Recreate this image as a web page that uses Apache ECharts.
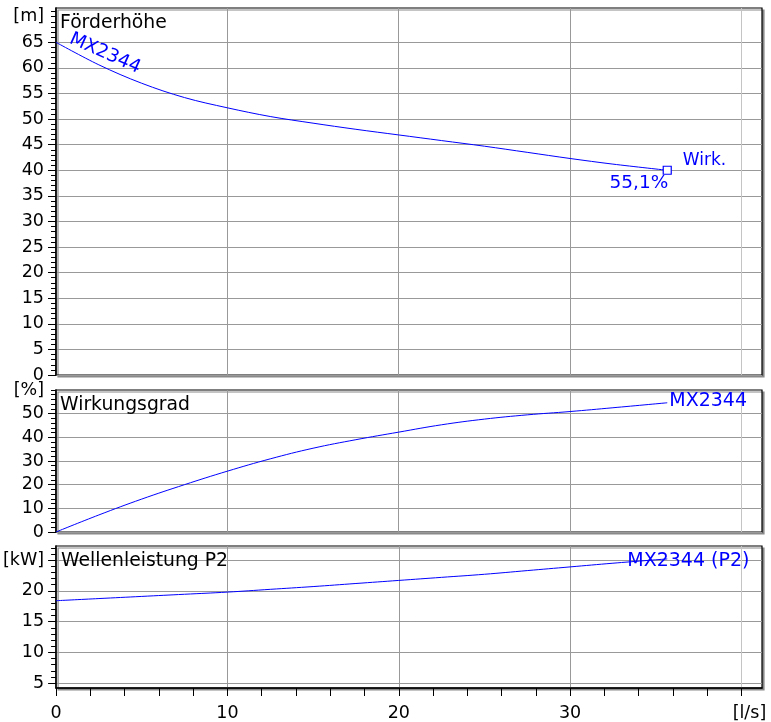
<!DOCTYPE html>
<html>
<head>
<meta charset="utf-8">
<script src="https://cdn.jsdelivr.net/npm/echarts@6/dist/echarts.min.js"></script>
<style>html,body{margin:0;padding:0;background:#fff}#c{width:771px;height:722px}</style>
</head>
<body>
<div id="c"></div>
<script>
// ---- data ----
const flow  = [0, 2.5, 5, 7.5, 10, 12.5, 15, 17.5, 20, 22.5, 25, 27.5, 30, 32.5, 35.67];
const head  = [65, 60.6, 57.0, 54.2, 52.2, 50.5, 49.2, 48.0, 46.9, 45.8, 44.7, 43.5, 42.3, 41.2, 40.0];
const eff   = [0, 7.2, 13.9, 20.0, 25.7, 30.9, 35.4, 39.0, 42.2, 45.3, 47.7, 49.5, 50.9, 52.5, 54.6];
const power = [18.4, 18.75, 19.1, 19.45, 19.8, 20.25, 20.7, 21.2, 21.7, 22.2, 22.7, 23.3, 23.9, 24.5, 25.2];

const pumpName = 'MX2344';
const opLabel = 'Wirk.';
const opEffText = '55,1%';
const titles = ['Förderhöhe', 'Wirkungsgrad', 'Wellenleistung P2'];

const xTicks = [0, 10, 20, 30, 40];
const xMinorTicks = [0, 2, 4, 6, 8, 10, 12, 14, 16, 18, 20, 22, 24, 26, 28, 30, 32, 34, 36, 38, 40];
const hTicks = [0, 5, 10, 15, 20, 25, 30, 35, 40, 45, 50, 55, 60, 65];
const hLabels = [0, 5, 10, 15, 20, 25, 30, 35, 40, 45, 50, 55, 60, 65, 70];
const eTicks = [0, 10, 20, 30, 40, 50];
const eLabels = [0, 10, 20, 30, 40, 50, 60];
const pTicks = [5, 10, 15, 20, 25];
const pLabels = [5, 10, 15, 20, 25];
const units = { x: '[l/s]', h: '[m]', e: '[%]', p: '[kW]' };
const unitAt = { x: 40, h: 70, e: 60, p: 25 };

function range(a, b, s) { const r = []; for (let v = a; v <= b + 1e-9; v += s) r.push(v); return r; }
const hMinor = range(0, 71, 1);
const eMinor = range(0, 60, 2);
const pMinor = range(5, 27, 1);

// ---- styles ----
const FONT = 'DejaVu Sans';
const BLUE = '#0000ff';
const GRIDC = '#999999';
const pairs = (ys) => flow.map((x, i) => [x, ys[i]]);
const last = flow.length - 1;

const grids = [
  { left: 56, width: 706, top: 8, height: 367 },
  { left: 56, width: 706, top: 390, height: 142 },
  { left: 56, width: 706, top: 546, height: 142 }
].map(g => Object.assign(g, {
  show: true, backgroundColor: '#fff', borderColor: '#000', borderWidth: 1.2,
  shadowColor: '#8a8a8a', shadowOffsetX: 2, shadowOffsetY: 2, shadowBlur: 0
}));

function xAxisMain(gi, showLabels) {
  return {
    type: 'value', gridIndex: gi, min: 0, max: 41.2, position: 'bottom',
    axisLine: { show: gi === 2, onZero: false, lineStyle: { color: '#000', width: 1.5 } },
    axisTick: { show: false, customValues: xTicks },
    axisLabel: {
      show: showLabels, customValues: xTicks, margin: 16,
      color: '#000', fontFamily: FONT, fontSize: 17.5,
      formatter: v => v === unitAt.x ? '{u|' + units.x + '}' : String(v),
      rich: { u: { color: '#000', fontFamily: FONT, fontSize: 17.5, padding: [0, 0, 0, 16] } }
    },
    splitLine: { show: true, lineStyle: { color: [GRIDC, GRIDC, GRIDC, GRIDC, '#c4c4c4'], width: 1 } }
  };
}
function yAxisMain(gi, min, max, ticks, labels, unitKey) {
  return {
    type: 'value', gridIndex: gi, min: min, max: max, position: 'left',
    axisLine: { show: true, onZero: false, lineStyle: { color: '#000', width: 1.6 } },
    axisTick: { show: true, length: 8, customValues: ticks, lineStyle: { color: '#000', width: 1 } },
    axisLabel: {
      customValues: labels, margin: 12, color: '#000', fontFamily: FONT, fontSize: 17.5,
      formatter: v => v === unitAt[unitKey] ? units[unitKey] : String(v)
    },
    splitLine: { show: true, lineStyle: { color: GRIDC, width: 1 } }
  };
}
function yAxisMinor(gi, min, max, ticks) {
  return {
    type: 'value', gridIndex: gi, min: min, max: max, position: 'left',
    axisLine: { show: false, onZero: false },
    axisTick: { show: true, length: 5, customValues: ticks, lineStyle: { color: '#000', width: 1 } },
    axisLabel: { show: false },
    splitLine: { show: false }
  };
}

const option = {
  animation: false,
  backgroundColor: '#fff',
  grid: grids,
  xAxis: [
    xAxisMain(0, false),
    xAxisMain(1, false),
    xAxisMain(2, true),
    {
      type: 'value', gridIndex: 2, min: 0, max: 41.2, position: 'bottom',
      axisLine: { show: false, onZero: false },
      axisTick: { show: true, length: 8, customValues: xMinorTicks, lineStyle: { color: '#000', width: 1 } },
      axisLabel: { show: false }, splitLine: { show: false }
    }
  ],
  yAxis: [
    yAxisMain(0, 0, 71.7, hTicks, hLabels, 'h'),
    yAxisMinor(0, 0, 71.7, hMinor),
    yAxisMain(1, 0, 60, eTicks, eLabels, 'e'),
    yAxisMinor(1, 0, 60, eMinor),
    yAxisMain(2, 4.2, 27.3, pTicks, pLabels, 'p'),
    yAxisMinor(2, 4.2, 27.3, pMinor)
  ],
  graphic: [
    { type: 'text', x: 60, y: 23, z: 100, style: { text: titles[0], fill: '#000', fontFamily: FONT, fontSize: 18.8, verticalAlign: 'middle' } },
    { type: 'text', x: 60, y: 405, z: 100, style: { text: titles[1], fill: '#000', fontFamily: FONT, fontSize: 18.8, verticalAlign: 'middle' } },
    { type: 'text', x: 61, y: 561, z: 100, style: { text: titles[2], fill: '#000', fontFamily: FONT, fontSize: 18.8, verticalAlign: 'middle' } }
  ],
  series: [
    {
      type: 'line', xAxisIndex: 0, yAxisIndex: 0, data: pairs(head), smooth: 0.35,
      showSymbol: false, lineStyle: { color: BLUE, width: 1 }, z: 3
    },
    {
      type: 'scatter', xAxisIndex: 0, yAxisIndex: 0, data: [[flow[last], head[last]]],
      symbol: 'rect', symbolSize: 8,
      itemStyle: { color: '#fff', borderColor: BLUE, borderWidth: 1.2, opacity: 1 }, z: 5,
      label: { show: true, formatter: opLabel, position: 'right', distance: 11, offset: [0, -10],
        color: BLUE, fontFamily: FONT, fontSize: 17 }
    },
    {
      type: 'scatter', xAxisIndex: 0, yAxisIndex: 0, data: [[flow[last], head[last]]],
      symbolSize: 0, z: 5, itemStyle: { opacity: 1 },
      label: { show: true, formatter: opEffText, position: 'inside', align: 'right', verticalAlign: 'middle',
        offset: [1, 12.5], color: BLUE, fontFamily: FONT, fontSize: 18.5 }
    },
    {
      type: 'scatter', xAxisIndex: 0, yAxisIndex: 0, data: [[flow[1], head[1]]],
      symbolSize: 0, z: 5, itemStyle: { opacity: 1 },
      label: { show: true, formatter: pumpName, position: 'inside', align: 'center', verticalAlign: 'middle',
        rotate: -24, offset: [1, -12.9], color: BLUE, fontFamily: FONT, fontSize: 18.5 }
    },
    {
      type: 'line', xAxisIndex: 1, yAxisIndex: 2, data: pairs(eff), smooth: 0.4,
      showSymbol: false, lineStyle: { color: BLUE, width: 1 }, z: 3,
      endLabel: { show: true, formatter: pumpName, distance: 2, offset: [0, -2],
        color: BLUE, fontFamily: FONT, fontSize: 19 }
    },
    {
      type: 'line', xAxisIndex: 2, yAxisIndex: 4, data: pairs(power), smooth: 0.4,
      showSymbol: false, lineStyle: { color: BLUE, width: 1 }, z: 3,
      endLabel: { show: true, formatter: pumpName + ' (P2)', distance: 2, offset: [-42, 2],
        color: BLUE, fontFamily: FONT, fontSize: 19 }
    }
  ]
};

const chart = echarts.init(document.getElementById('c'), null, { renderer: 'canvas' });
chart.setOption(option);
</script>
</body>
</html>
